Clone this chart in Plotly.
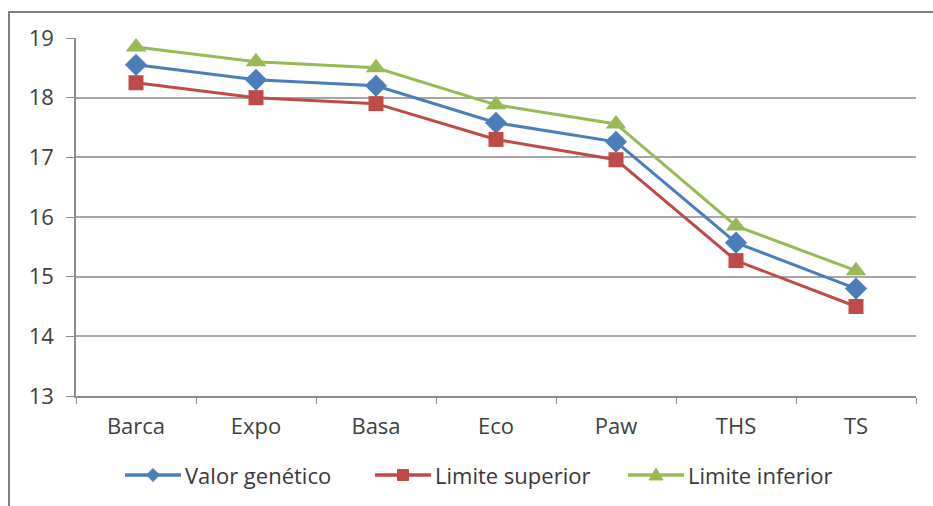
import plotly.graph_objects as go

categories = ["Barca", "Expo", "Basa", "Eco", "Paw", "THS", "TS"]
valor_genetico = [18.55, 18.30, 18.20, 17.58, 17.26, 15.57, 14.80]
limite_superior = [18.25, 18.00, 17.90, 17.30, 16.96, 15.27, 14.50]
limite_inferior = [18.85, 18.60, 18.50, 17.88, 17.56, 15.85, 15.10]
y_ticks = [13, 14, 15, 16, 17, 18, 19]

series = [
    ("Valor genético", valor_genetico, "#4A7EBB", "diamond", 17),
    ("Limite superior", limite_superior, "#BE4B48", "square", 15),
    ("Limite inferior", limite_inferior, "#98B954", "triangle-up", 18),
]

W, H = 933, 506
L, R, T, B = 76, 17, 38, 110
pw, ph = W - L - R, H - T - B


def px(x):
    """Page pixel column -> paper x."""
    return (x - L) / pw


def py(y):
    """Page pixel row -> paper y."""
    return (H - B - y) / ph


fig = go.Figure()
for name, vals, color, symbol, size in series:
    fig.add_trace(go.Scatter(
        x=categories, y=vals, name=name, mode="lines+markers",
        line=dict(color=color, width=3),
        marker=dict(symbol=symbol, size=size, color=color),
        showlegend=False,
    ))

shapes = []
# outer chart frame (open on the right and bottom edges of the page)
shapes.append(dict(type="rect", xref="paper", yref="paper",
                   x0=px(9), x1=px(W + 5), y0=py(H + 5), y1=py(12),
                   line=dict(color="#808080", width=2), layer="below"))

# legend row drawn below the plot: line sample, small marker, label
legend_y = 475
legend_x = [125, 375, 628]   # left end of each sample line
sample_len = 56


def marker_path(symbol, cx, cy):
    if symbol == "diamond":
        pts = [(cx, cy - 6.5), (cx + 6.5, cy), (cx, cy + 6.5), (cx - 6.5, cy)]
    elif symbol == "square":
        pts = [(cx - 5.5, cy - 5.5), (cx + 5.5, cy - 5.5),
               (cx + 5.5, cy + 5.5), (cx - 5.5, cy + 5.5)]
    else:
        pts = [(cx, cy - 7), (cx + 7, cy + 5), (cx - 7, cy + 5)]
    return "M " + " L ".join(f"{px(a)},{py(b)}" for a, b in pts) + " Z"


annotations = []
for (name, _, color, symbol, _), x0 in zip(series, legend_x):
    shapes.append(dict(type="line", xref="paper", yref="paper",
                       x0=px(x0), x1=px(x0 + sample_len),
                       y0=py(legend_y), y1=py(legend_y),
                       line=dict(color=color, width=3.5)))
    shapes.append(dict(type="path", xref="paper", yref="paper",
                       path=marker_path(symbol, x0 + sample_len / 2, legend_y),
                       fillcolor=color, line=dict(color=color, width=1)))
    annotations.append(dict(text=name, xref="paper", yref="paper",
                            x=px(x0 + sample_len + 2), y=py(legend_y),
                            xanchor="left", yanchor="middle", showarrow=False,
                            font=dict(size=22, color="#383838")))

fig.update_layout(
    width=W, height=H,
    margin=dict(l=L, r=R, t=T, b=B),
    paper_bgcolor="white", plot_bgcolor="white",
    font=dict(family="'Open Sans', Lato, sans-serif", size=20, color="#404040"),
    showlegend=False,
    shapes=shapes,
    annotations=annotations,
    xaxis=dict(
        type="category", range=[-0.5, 6.5],
        showgrid=False, showline=True, linecolor="#8c8c8c", linewidth=1.5,
        ticks="outside", ticklen=6, tickcolor="#8c8c8c", tickson="boundaries",
        ticklabelstandoff=10, tickfont=dict(size=22, color="#404040"),
    ),
    yaxis=dict(
        range=[13, 19], tickvals=y_ticks,
        showgrid=True, gridcolor="#a6a6a6", gridwidth=1.5,
        showline=True, linecolor="#8c8c8c", linewidth=1.5,
        ticks="outside", ticklen=8, tickcolor="#8c8c8c",
        ticklabelstandoff=8, tickfont=dict(size=22, color="#404040"),
        zeroline=False,
    ),
)

fig.write_html("out.html")
